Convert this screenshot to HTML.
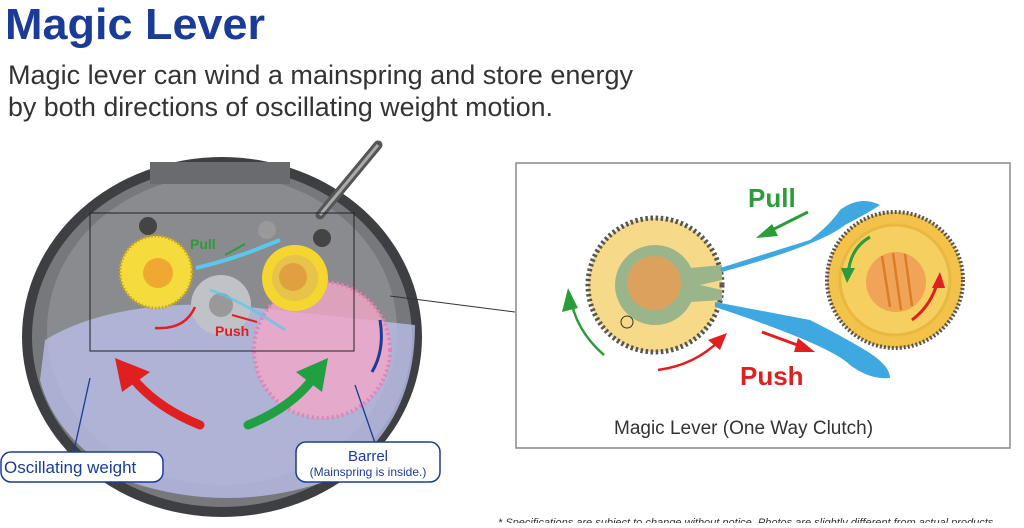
<!DOCTYPE html>
<html><head><meta charset="utf-8"><style>
body{margin:0;width:1024px;height:523px;overflow:hidden;background:#fff;font-family:"Liberation Sans",sans-serif}
</style></head><body>
<svg width="1024" height="523" viewBox="0 0 1024 523" xmlns="http://www.w3.org/2000/svg">
<text x="5" y="39" font-family="Liberation Sans" font-weight="bold" font-size="44" fill="#1a3c96" textLength="260" lengthAdjust="spacingAndGlyphs">Magic Lever</text>
<text x="8" y="84" font-family="Liberation Sans" font-size="27" fill="#333" textLength="625" lengthAdjust="spacingAndGlyphs">Magic lever can wind a mainspring and store energy</text>
<text x="8" y="116" font-family="Liberation Sans" font-size="27" fill="#333" textLength="545" lengthAdjust="spacingAndGlyphs">by both directions of oscillating weight motion.</text>

<!-- movement -->
<ellipse cx="222" cy="337" rx="200" ry="180" fill="#3e3f42"/>
<ellipse cx="222" cy="337" rx="190" ry="170" fill="#77787b"/>
<ellipse cx="222" cy="330" rx="175" ry="155" fill="#8a8b8e"/>
<rect x="150" y="162" width="140" height="22" fill="#6a6b6e"/>
<line x1="320" y1="215" x2="378" y2="145" stroke="#555" stroke-width="9" stroke-linecap="round"/>
<line x1="320" y1="215" x2="378" y2="145" stroke="#aaa" stroke-width="3"/>
<circle cx="148" cy="226" r="9" fill="#444"/><circle cx="322" cy="238" r="9" fill="#444"/><circle cx="267" cy="230" r="9" fill="#999"/>
<!-- oscillating weight -->
<path d="M45 340 Q110 300 230 305 L415 325 Q415 430 330 480 Q230 515 130 482 Q55 440 40 380Z" fill="#b8bde8" opacity="0.8"/>
<!-- pink barrel -->
<circle cx="322" cy="350" r="68" fill="#f3a6c8" opacity="0.8"/>
<circle cx="322" cy="350" r="68" fill="none" stroke="#e97fb0" stroke-width="4" stroke-dasharray="2 3"/>
<!-- gears -->
<circle cx="156" cy="272" r="36" fill="#f5dc3c"/>
<circle cx="156" cy="272" r="36" fill="none" stroke="#c8a810" stroke-width="3" stroke-dasharray="1.5 2"/>
<circle cx="158" cy="273" r="15" fill="#f0a830"/>
<circle cx="295" cy="278" r="33" fill="#f5d630"/>
<circle cx="295" cy="278" r="23" fill="#e7c34a"/>
<circle cx="293" cy="277" r="14" fill="#e0a040"/>
<circle cx="221" cy="305" r="30" fill="#c0c2c8"/><circle cx="221" cy="305" r="12" fill="#999"/>
<path d="M196 268 Q230 260 260 248 L280 240" stroke="#5ac8ea" stroke-width="4" fill="none"/>
<path d="M210 290 Q240 300 285 330" stroke="#5ac8ea" stroke-width="3" fill="none" opacity="0.7"/>
<rect x="90" y="213" width="264" height="138" fill="none" stroke="#222" stroke-width="1"/>
<line x1="390" y1="296" x2="515" y2="312" stroke="#333" stroke-width="1"/>
<text x="190" y="249" font-family="Liberation Sans" font-weight="bold" font-size="14" fill="#2a9c38">Pull</text>
<text x="215" y="336" font-family="Liberation Sans" font-weight="bold" font-size="14" fill="#e02020">Push</text>
<path d="M245 244 L225 255" stroke="#2a9c38" stroke-width="2"/>
<path d="M232 315 L257 322" stroke="#e02020" stroke-width="2"/>
<path d="M155 328 Q185 330 195 307" stroke="#e02020" stroke-width="2.5" fill="none"/>
<!-- big arrows -->
<path d="M200 425 Q150 405 125 368" stroke="#e02020" stroke-width="9" fill="none" stroke-linecap="round"/>
<polygon points="115,358 150,372 122,392" fill="#e02020"/>
<path d="M248 425 Q298 405 320 368" stroke="#20a040" stroke-width="9" fill="none" stroke-linecap="round"/>
<polygon points="328,358 322,392 296,372" fill="#20a040"/>
<path d="M380 320 Q385 350 372 372" stroke="#1a3c96" stroke-width="3" fill="none"/>
<!-- labels -->
<line x1="90" y1="378" x2="73" y2="455" stroke="#1a3c96" stroke-width="1.3"/>
<line x1="355" y1="385" x2="375" y2="443" stroke="#1a3c96" stroke-width="1.3"/>
<rect x="1" y="452" width="162" height="30" rx="10" fill="#fff" stroke="#1a3c96" stroke-width="1.5"/>
<text x="4" y="473" font-family="Liberation Sans" font-size="17" fill="#1a3c96">Oscillating weight</text>
<rect x="296" y="442" width="144" height="40" rx="10" fill="#fff" stroke="#1a3c96" stroke-width="1.5"/>
<text x="368" y="461" text-anchor="middle" font-family="Liberation Sans" font-size="15" fill="#1a3c96">Barrel</text>
<text x="368" y="476" text-anchor="middle" font-family="Liberation Sans" font-size="12" fill="#1a3c96">(Mainspring is inside.)</text>

<!-- right panel -->
<rect x="516" y="163" width="494" height="285" fill="#fff" stroke="#888" stroke-width="1.5"/>
<circle cx="655" cy="285" r="67" fill="#f7d98a"/>
<circle cx="655" cy="285" r="67" fill="none" stroke="#555" stroke-width="5" stroke-dasharray="2.5 2.6"/>
<circle cx="655" cy="285" r="63" fill="#f7d98a"/>
<path d="M655 245 a40 40 0 1 1 0 80 a40 40 0 1 1 0-80Z" fill="#9bb58a"/>
<path d="M690 268 L722 265 L722 280 L700 285 L722 290 L722 300 L690 302Z" fill="#9bb58a"/>
<circle cx="654" cy="283" r="27" fill="#dda15e"/>
<circle cx="627" cy="322" r="6" fill="#f7d98a" stroke="#333"/>
<path d="M720 268 L810 240 Q830 225 840 210 Q860 195 880 205 Q870 212 845 225 Q820 245 722 272Z" fill="#3fa8e0"/>
<path d="M715 302 L810 320 Q840 335 865 350 Q890 365 890 378 Q870 380 850 365 Q830 345 715 307Z" fill="#3fa8e0"/>
<circle cx="895" cy="280" r="68" fill="#f2c24a"/>
<circle cx="895" cy="280" r="68" fill="none" stroke="#555" stroke-width="4" stroke-dasharray="2 2"/>
<circle cx="895" cy="280" r="55" fill="#f5cf60" stroke="#e8b840" stroke-width="3"/>
<circle cx="896" cy="282" r="30" fill="#f1a458"/>
<path d="M882 256 L890 307 M893 253 L901 310 M905 254 L912 306" stroke="#d97d28" stroke-width="2.5"/>
<text x="748" y="207" font-family="Liberation Sans" font-weight="bold" font-size="26" fill="#2a9c38">Pull</text>
<text x="740" y="385" font-family="Liberation Sans" font-weight="bold" font-size="26" fill="#e02020">Push</text>
<path d="M808 212 L768 232" stroke="#2a9c38" stroke-width="3"/><polygon points="756,238 772,224 778,236" fill="#2a9c38"/>
<path d="M762 332 L800 346" stroke="#e02020" stroke-width="3"/><polygon points="815,352 798,338 794,352" fill="#e02020"/>
<path d="M658 370 Q695 365 720 340" stroke="#e02020" stroke-width="2.5" fill="none"/><polygon points="727,333 708,340 720,350" fill="#e02020"/>
<path d="M604 355 Q575 330 570 295" stroke="#2a9c38" stroke-width="2.5" fill="none"/><polygon points="568,288 562,312 578,308" fill="#2a9c38"/>
<path d="M870 237 Q850 248 848 275" stroke="#2a9c38" stroke-width="3" fill="none"/><polygon points="847,283 841,268 855,268" fill="#2a9c38"/>
<path d="M912 320 Q932 305 938 280" stroke="#e02020" stroke-width="3" fill="none"/><polygon points="940,272 932,288 945,288" fill="#e02020"/>
<text x="614" y="434" font-family="Liberation Sans" font-size="19" fill="#333">Magic Lever (One Way Clutch)</text>
<text x="498" y="526" font-family="Liberation Sans" font-style="italic" font-size="11" fill="#333">* Specifications are subject to change without notice. Photos are slightly different from actual products.</text>
</svg>
</body></html>
